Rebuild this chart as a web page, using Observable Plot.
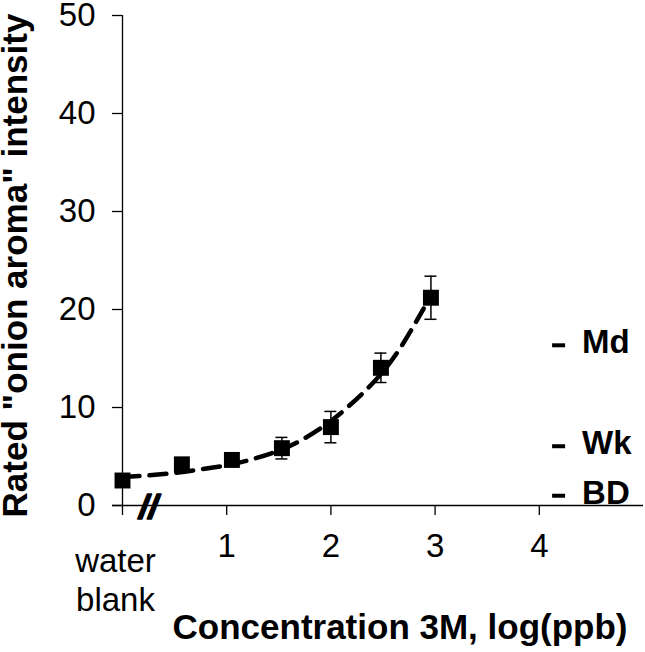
<!DOCTYPE html>
<html>
<head>
<meta charset="utf-8">
<script src="https://cdn.jsdelivr.net/npm/d3@7"></script>
<script src="https://cdn.jsdelivr.net/npm/@observablehq/plot@0.6"></script>
<style>
  html, body { margin: 0; padding: 0; background: #fff; }
  #chart { width: 645px; height: 652px; }
</style>
</head>
<body>
<div id="chart"></div>
<script>
// ---- data ----
const xTicks = [0, 1, 2, 3, 4];
const yTicks = [0, 10, 20, 30, 40, 50];
const conc = [0, 0.57, 1.05, 1.53, 2.0, 2.48, 2.96];          // log(ppb); 0 = water blank
const intensity = [2.55, 4.2, 4.65, 5.85, 8.0, 14.05, 21.2];
const sem = [0.4, 0.5, 0.5, 1.1, 1.6, 1.5, 2.2];
const fitX = [0, 0.24, 0.72, 1.2, 1.68, 2.16, 2.63, 2.89];
const fitY = [2.9, 3.06, 3.64, 4.59, 6.46, 10.03, 15.5, 20.1];
const refLabels = ["Md", "Wk", "BD"];
const refValues = [16.5, 6.2, 1.15];
const refX = 4.19;
const blankLabel = "water\nblank";
const breakLabel = "//";
const breakX = 0.25;
const xTitle = "Concentration 3M, log(ppb)";
const yTitle = "Rated \"onion aroma\" intensity";

const points = conc.map((x, i) => ({x, y: intensity[i], lo: intensity[i] - sem[i], hi: intensity[i] + sem[i]}));
const fit = fitX.map((x, i) => ({x, y: fitY[i]}));
const refs = refLabels.map((label, i) => ({label, v: refValues[i], x: refX}));

const font = "Liberation Sans, Arial, Helvetica, sans-serif";

const chart = Plot.plot({
  width: 645,
  height: 652,
  marginLeft: 122,
  marginRight: 2,
  marginTop: 15,
  marginBottom: 147,
  x: {domain: [0, 5]},
  y: {domain: [0, 50]},
  style: {fontFamily: font, color: "black", background: "white", overflow: "visible"},
  marks: [
    // axes
    Plot.ruleX([0], {y1: 0, y2: 50, stroke: "black", strokeWidth: 1.3}),
    Plot.ruleY([0], {x1: 0, x2: 5, insetLeft: -10, stroke: "black", strokeWidth: 1.3}),
    Plot.axisY(yTicks, {tickSize: 10, tickPadding: 17, fontSize: 33, label: null, stroke: "black", strokeWidth: 1.3}),
    Plot.axisX(xTicks, {tickSize: 10, tickPadding: 18, fontSize: 33, label: null, stroke: "black", strokeWidth: 1.3,
      tickFormat: d => d === 0 ? "" : String(d)}),
    Plot.text([{x: 0, y: 0, t: blankLabel}], {x: "x", y: "y", text: "t", fontSize: 33, lineAnchor: "top",
      lineHeight: 1.2, dy: 38, dx: -7}),
    Plot.text([{x: breakX, y: 0, t: breakLabel}], {x: "x", y: "y", text: "t", fontSize: 34, fontWeight: "bold",
      fontStyle: "italic", fill: "black", stroke: "black", strokeWidth: 1.6, paintOrder: "normal", dy: 2}),
    // fitted curve
    Plot.line(fit, {x: "x", y: "y", curve: "monotone-x", stroke: "black", strokeWidth: 4.5,
      strokeDasharray: "17,10"}),
    // error bars
    Plot.ruleX(points, {x: "x", y1: "lo", y2: "hi", stroke: "black", strokeWidth: 1.5}),
    Plot.ruleY(points, {y: "hi", x1: "x", x2: "x", insetLeft: -6, insetRight: -6, stroke: "black", strokeWidth: 1.5}),
    Plot.ruleY(points, {y: "lo", x1: "x", x2: "x", insetLeft: -6, insetRight: -6, stroke: "black", strokeWidth: 1.5}),
    // markers
    Plot.dot(points, {x: "x", y: "y", symbol: "square", r: 9, fill: "black", stroke: "none"}),
    // reference levels
    Plot.ruleY(refs, {y: "v", x1: "x", x2: "x", insetLeft: -6.5, insetRight: -6.5, stroke: "black", strokeWidth: 4, dy: 1.5}),
    Plot.text(refs, {x: "x", y: "v", text: "label", textAnchor: "start", dx: 23, dy: -1, fontSize: 33, fontWeight: "bold"}),
    // titles
    Plot.text([xTitle], {frameAnchor: "bottom", textAnchor: "middle", lineAnchor: "middle", dy: 122, dx: 17, fontSize: 35, fontWeight: "bold"}),
    Plot.text([yTitle], {frameAnchor: "left", textAnchor: "middle", lineAnchor: "middle", rotate: -90, dx: -107, dy: 5, fontSize: 35, fontWeight: "bold"})
  ]
});
document.getElementById("chart").appendChild(chart);
</script>
</body>
</html>
